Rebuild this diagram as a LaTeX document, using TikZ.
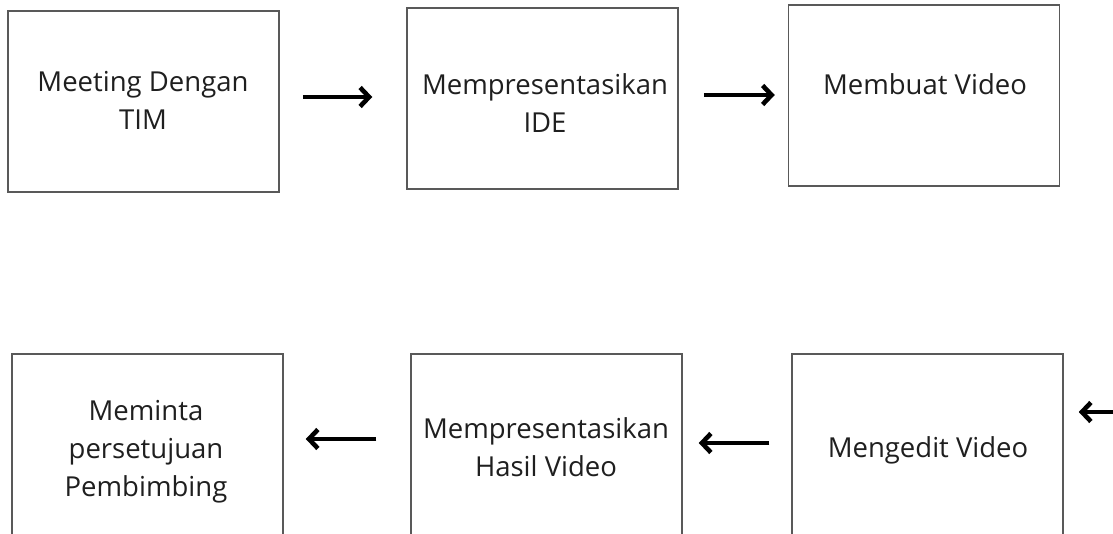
\documentclass[tikz,border=0pt]{standalone}
\usepackage{fontspec}
\setmainfont{Open Sans}
\usetikzlibrary{arrows.meta}

\begin{document}
\begin{tikzpicture}[x = 1pt, y = -1pt,
    stepbox/.style = {draw = black!65, line width = 1.5pt, minimum width = 271pt, minimum height = 181pt, inner sep = 0pt},
    steptext/.style = {align = center, inner sep = 0pt, text = black!88, font = \fontsize{27.5}{38}\selectfont},
    flow/.style = {line width = 4.6pt, -{Straight Barb[length = 9pt, width = 19pt, line width = 4.6pt]}}]
    \useasboundingbox (0,0) rectangle (1113,534);
    \clip (0,0) rectangle (1113,534);
    % top row
    \node[stepbox] (B1) at (143.5,101.5) {};
    \node[stepbox] (B2) at (542.5,98.5) {};
    \node[stepbox] (B3) at (924,95.5) {};
    % bottom row
    \node[stepbox] (B4) at (147.5,444.5) {};
    \node[stepbox] (B5) at (546.5,444.5) {};
    \node[stepbox] (B6) at (927.5,444.5) {};
    \node[steptext] (T1) at (143,100) {Meeting Dengan\\TIM};
    \node[steptext] (T2) at (545,103) {Mempresentasikan\\IDE};
    \node[steptext] (T3) at (925,84) {Membuat Video};
    \node[steptext] (T4) at (146,452) {Meminta\\persetujuan\\Pembimbing};
    \node[steptext] (T5) at (546,447) {Mempresentasikan\\Hasil Video};
    \node[steptext] (T6) at (928,450) {Mengedit Video};
    \coordinate (R) at (1130,412);
    \draw[flow, shorten < = 23pt, shorten > = 34pt] (B1.east |- 0,97) -- (B2.west |- 0,97);
    \draw[flow, shorten < = 25pt, shorten > = 13pt] (B2.east |- 0,95) -- (B3.west |- 0,95);
    \draw[flow, shorten < = 34pt, shorten > = 22pt] (B5.west |- 0,439) -- (B4.east |- 0,439);
    \draw[flow, shorten < = 22pt, shorten > = 16pt] (B6.west |- 0,443) -- (B5.east |- 0,443);
    \draw[flow, shorten > = 15pt] (R) -- (B6.east |- R);
\end{tikzpicture}
\end{document}
